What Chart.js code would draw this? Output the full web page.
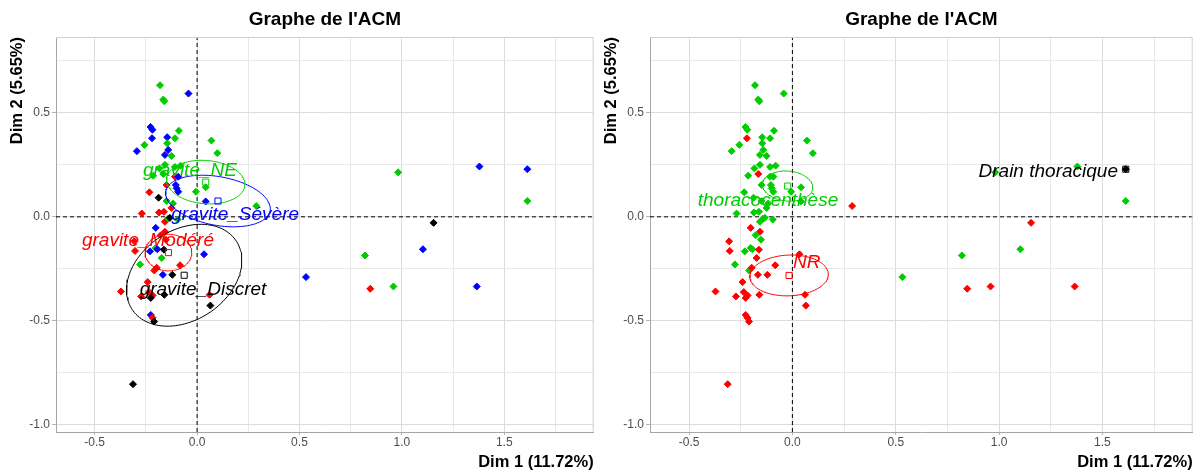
<!DOCTYPE html>
<html>
<head>
<meta charset="utf-8">
<title>Graphe de l'ACM</title>
<script src="https://cdn.jsdelivr.net/npm/chart.js@4.4.1/dist/chart.umd.min.js"></script>
<style>
  html, body { margin: 0; padding: 0; background: #ffffff; }
  #wrap { display: flex; width: 1198px; height: 473px; }
  canvas { display: block; }
</style>
</head>
<body>
<div id="wrap">
  <canvas id="acmGravite" width="599" height="473"></canvas>
  <canvas id="acmGeste" width="599" height="473"></canvas>
</div>
<script>
// Coordinates of the individuals on the first two dimensions
const dim1 = [
  -0.181, -0.042, -0.165, -0.160, -0.227, -0.218, -0.220, -0.089, -0.146, -0.108,
  -0.257, -0.146, -0.294, -0.141, -0.157, -0.125,  0.070,  0.099, -0.184, -0.157,
  -0.108, -0.081, -0.214, -0.165, -0.108, -0.092, -0.149, -0.104, -0.100, -0.092,
  -0.233,  0.042, -0.006, -0.188, -0.149, -0.117,  0.042, -0.125, -0.270, -0.186,
  -0.162, -0.157, -0.141, -0.133, -0.095, -0.202, -0.157, -0.178, -0.152, -0.306,
  -0.303, -0.202, -0.230, -0.194, -0.162, -0.173, -0.278, -0.209, -0.197, -0.083,
   0.034, -0.167, -0.121, -0.241, -0.372, -0.273, -0.235, -0.217, -0.226, -0.160,
   0.061,  0.065, -0.226, -0.217, -0.210, -0.313,  0.982,  1.379,  1.613,  1.613,
   1.155,  1.103,  0.820,  0.532,  0.846,  0.959,  1.366,  0.289
];
const dim2 = [
   0.633,  0.593,  0.564,  0.556,  0.432,  0.419,  0.378,  0.414,  0.383,  0.378,
   0.346,  0.354,  0.316,  0.322,  0.298,  0.293,  0.367,  0.306,  0.233,  0.250,
   0.240,  0.246,  0.198,  0.206,  0.193,  0.193,  0.153,  0.153,  0.137,  0.121,
   0.118,  0.142,  0.121,  0.092,  0.076,  0.064,  0.074,  0.043,  0.016,  0.021,
   0.024, -0.024, -0.008, -0.005, -0.013, -0.053, -0.072, -0.089, -0.110, -0.118,
  -0.164, -0.150, -0.166, -0.156, -0.158, -0.198, -0.229, -0.258, -0.245, -0.233,
  -0.180, -0.279, -0.279, -0.314, -0.359, -0.383, -0.362, -0.378, -0.390, -0.375,
  -0.375, -0.427, -0.472, -0.486, -0.504, -0.805,  0.214,  0.242,  0.229,  0.076,
  -0.029, -0.156, -0.186, -0.290, -0.346, -0.335, -0.335,  0.052
];

// Severity of each individual
const gravite = [
  'NE','Sévère','NE','NE','Sévère','Sévère','Sévère','NE','Sévère','NE',
  'NE','NE','Sévère','Sévère','Sévère','NE','NE','NE','NE','NE',
  'NE','NE','NE','NE','Modéré','Sévère','Modéré','Sévère','Sévère','Sévère',
  'Modéré','NE','NE','Discret','NE','NE','Sévère','Modéré','Modéré','Modéré',
  'Modéré','Modéré','NE','Discret','NE','Sévère','Modéré','Modéré','Modéré','Modéré',
  'Modéré','NE','Sévère','Sévère','Discret','NE','NE','Modéré','Modéré','Modéré',
  'Sévère','Sévère','Discret','Modéré','Modéré','Modéré','Modéré','Modéré','Discret','Discret',
  'Modéré','Discret','Sévère','Modéré','Discret','Discret','NE','Sévère','Sévère','NE',
  'Discret','Sévère','NE','Sévère','Modéré','NE','Sévère','NE'
];

// Procedure performed on each individual
const T = 'thoracocenthèse', N = 'NR', D = 'Drain thoracique';
const geste = [
  T, T, T, T, T, T, N, T, T, T,
  T, T, T, T, T, T, T, T, T, T,
  T, T, T, N, T, T, T, T, T, T,
  T, T, T, T, T, T, T, T, T, T,
  T, T, T, T, T, N, N, T, T, N,
  N, T, T, T, N, N, T, T, N, N,
  N, N, N, N, N, N, N, N, N, N,
  N, N, N, N, N, N, T, T, D, T,
  N, T, T, T, N, N, N, N
];

// Severity categories: colours, barycentres, confidence ellipses, label anchors
const graviteLevels      = ['Discret', 'Modéré', 'NE', 'Sévère'];
const graviteColours     = ['#000000', '#FF0000', '#00CD00', '#0000FF'];
const graviteMeanX       = [-0.063, -0.140, 0.042, 0.102];
const graviteMeanY       = [-0.281, -0.172, 0.167, 0.076];
const graviteSemiMajor   = [0.303, 0.114, 0.192, 0.259];
const graviteSemiMinor   = [0.218, 0.088, 0.104, 0.117];
const graviteAngle       = [0.56, 0.0, -0.08, -0.18];
const graviteLabelX      = [0.029, -0.240, -0.035, 0.186];
const graviteLabelY      = [-0.352, -0.114, 0.222, 0.010];

// Procedure categories
const gesteLevels        = ['Drain thoracique', 'NR', 'thoracocenthèse'];
const gesteColours       = ['#000000', '#FF0000', '#00CD00'];
const gesteMeanX         = [1.613, -0.016, -0.023];
const gesteMeanY         = [0.229, -0.282, 0.148];
const gesteSemiMajor     = [0, 0.190, 0.122];
const gesteSemiMinor     = [0, 0.098, 0.072];
const gesteAngle         = [0, 0.04, -0.08];
const gesteLabelX        = [1.238, 0.069, -0.118];
const gesteLabelY        = [0.217, -0.222, 0.077];

// Axis limits and grid positions
const xLimits = [-0.689, 1.937];
const yLimits = [-1.035, 0.865];
const xTicks = [-0.5, -0.25, 0, 0.25, 0.5, 0.75, 1, 1.25, 1.5, 1.75];
const yTicks = [-1, -0.75, -0.5, -0.25, 0, 0.25, 0.5, 0.75];

const FONT = "'Liberation Sans', Arial, Helvetica, sans-serif";

function isMajor(v) { return Math.abs(v * 2 - Math.round(v * 2)) < 1e-6; }

function ellipseOutline(cx, cy, a, b, theta) {
  const pts = [];
  const n = 120;
  for (let i = 0; i <= n; i++) {
    const t = (i / n) * 2 * Math.PI;
    const ex = a * Math.cos(t), ey = b * Math.sin(t);
    pts.push({
      x: cx + ex * Math.cos(theta) - ey * Math.sin(theta),
      y: cy + ex * Math.sin(theta) + ey * Math.cos(theta)
    });
  }
  return pts;
}

// Draws the category names at their anchors, in the category colour
const categoryLabels = {
  id: 'categoryLabels',
  afterDatasetsDraw(chart, args, opts) {
    const { ctx, scales: { x, y } } = chart;
    ctx.save();
    ctx.font = 'italic 19px ' + FONT;
    ctx.textAlign = 'center';
    ctx.textBaseline = 'middle';
    opts.items.forEach(it => {
      ctx.fillStyle = it.color;
      ctx.fillText(it.text, x.getPixelForValue(it.x), y.getPixelForValue(it.y));
    });
    ctx.restore();
  }
};

// Light frame on the top and right sides of the panel
const panelFrame = {
  id: 'panelFrame',
  afterDraw(chart) {
    const { ctx, chartArea: a } = chart;
    ctx.save();
    ctx.strokeStyle = '#cfcfcf';
    ctx.lineWidth = 1;
    ctx.beginPath();
    ctx.moveTo(a.left, a.top + 0.5);
    ctx.lineTo(a.right - 0.5, a.top + 0.5);
    ctx.lineTo(a.right - 0.5, a.bottom);
    ctx.stroke();
    ctx.restore();
  }
};

function buildMap(canvasId, cfg) {
  const colourOf = lvl => cfg.colours[cfg.levels.indexOf(lvl)];
  const indColours = cfg.groups.map(colourOf);

  const datasets = [];

  // dashed reference lines through the origin
  datasets.push({
    data: [{ x: 0, y: yLimits[0] }, { x: 0, y: yLimits[1] }],
    showLine: true, pointRadius: 0, borderColor: '#000000', borderWidth: 1,
    borderDash: [4, 3], order: 5
  });
  datasets.push({
    data: [{ x: xLimits[0], y: 0 }, { x: xLimits[1], y: 0 }],
    showLine: true, pointRadius: 0, borderColor: '#000000', borderWidth: 1,
    borderDash: [4, 3], order: 5
  });

  // individuals
  datasets.push({
    data: dim1.map((v, i) => ({ x: v, y: dim2[i] })),
    pointStyle: 'rectRot', pointRadius: 3.5, borderWidth: 1,
    backgroundColor: indColours, borderColor: indColours, order: 4
  });

  // confidence ellipses
  cfg.levels.forEach((lvl, k) => {
    if (cfg.semiMajor[k] <= 0) return;
    datasets.push({
      data: ellipseOutline(cfg.meanX[k], cfg.meanY[k], cfg.semiMajor[k], cfg.semiMinor[k], cfg.angle[k]),
      showLine: true, pointRadius: 0, borderColor: cfg.colours[k], borderWidth: 1,
      tension: 0, order: 3
    });
  });

  // barycentres of the categories
  datasets.push({
    data: cfg.meanX.map((v, k) => ({ x: v, y: cfg.meanY[k] })),
    pointStyle: 'rect', pointRadius: 4.3, borderWidth: 1,
    backgroundColor: 'rgba(0,0,0,0)', borderColor: cfg.colours, order: 2
  });

  const gridColour = ctx => (ctx.tick && isMajor(ctx.tick.value)) ? '#dcdcdc' : '#e8e8e8';
  const tickColour = ctx => (ctx.tick && isMajor(ctx.tick.value)) ? '#b3b3b3' : 'rgba(0,0,0,0)';

  new Chart(document.getElementById(canvasId), {
    type: 'scatter',
    data: { datasets },
    options: {
      responsive: false,
      animation: false,
      devicePixelRatio: 1,
      layout: { padding: { left: 0, right: cfg.rightPad, top: 0, bottom: 0 } },
      plugins: {
        legend: { display: false },
        tooltip: { enabled: false },
        title: {
          display: true, text: "Graphe de l'ACM", fullSize: false,
          color: '#000000', font: { family: FONT, size: 19, weight: 'bold' },
          padding: { top: 8.5, bottom: 5.7 }
        },
        categoryLabels: {
          items: cfg.levels.map((lvl, k) => ({
            text: cfg.labelPrefix + lvl, x: cfg.labelX[k], y: cfg.labelY[k], color: cfg.colours[k]
          }))
        }
      },
      scales: {
        x: {
          type: 'linear', min: xLimits[0], max: xLimits[1],
          afterFit: s => { s.height = 41; },
          afterBuildTicks: s => { s.ticks = xTicks.map(v => ({ value: v })); },
          ticks: {
            autoSkip: false, maxRotation: 0, padding: 0, color: '#4d4d4d',
            font: { family: FONT, size: 12 },
            callback: v => isMajor(v) ? v.toFixed(1) : ''
          },
          grid: { color: gridColour, lineWidth: 1, tickLength: 3, tickColor: tickColour, tickWidth: 1 },
          border: { display: true, color: '#a6a6a6', width: 1 },
          title: {
            display: true, text: 'Dim 1 (11.72%)', align: 'end', color: '#000000',
            font: { family: FONT, size: 16.5, weight: 'bold' },
            padding: { top: 0, bottom: 1.1 }
          }
        },
        y: {
          type: 'linear', min: yLimits[0], max: yLimits[1],
          afterFit: s => { s.width = cfg.axisWidth; },
          afterBuildTicks: s => { s.ticks = yTicks.map(v => ({ value: v })); },
          ticks: {
            autoSkip: false, padding: 2, color: '#4d4d4d',
            font: { family: FONT, size: 12 },
            callback: v => isMajor(v) ? v.toFixed(1) : ''
          },
          grid: { color: gridColour, lineWidth: 1, tickLength: 4, tickColor: tickColour, tickWidth: 1 },
          border: { display: true, color: '#a6a6a6', width: 1 },
          title: {
            display: true, text: 'Dim 2 (5.65%)', align: 'end', color: '#000000',
            font: { family: FONT, size: 16.5, weight: 'bold' },
            padding: { top: cfg.yTitlePad, bottom: 0 }
          }
        }
      }
    },
    plugins: [categoryLabels, panelFrame]
  });
}

buildMap('acmGravite', {
  groups: gravite, levels: graviteLevels, colours: graviteColours,
  meanX: graviteMeanX, meanY: graviteMeanY,
  semiMajor: graviteSemiMajor, semiMinor: graviteSemiMinor, angle: graviteAngle,
  labelX: graviteLabelX, labelY: graviteLabelY, labelPrefix: 'gravite_',
  axisWidth: 56, rightPad: 1, yTitlePad: 8
});

buildMap('acmGeste', {
  groups: geste, levels: gesteLevels, colours: gesteColours,
  meanX: gesteMeanX, meanY: gesteMeanY,
  semiMajor: gesteSemiMajor, semiMinor: gesteSemiMinor, angle: gesteAngle,
  labelX: gesteLabelX, labelY: gesteLabelY, labelPrefix: '',
  axisWidth: 51, rightPad: 5, yTitlePad: 2.5
});
</script>
</body>
</html>
